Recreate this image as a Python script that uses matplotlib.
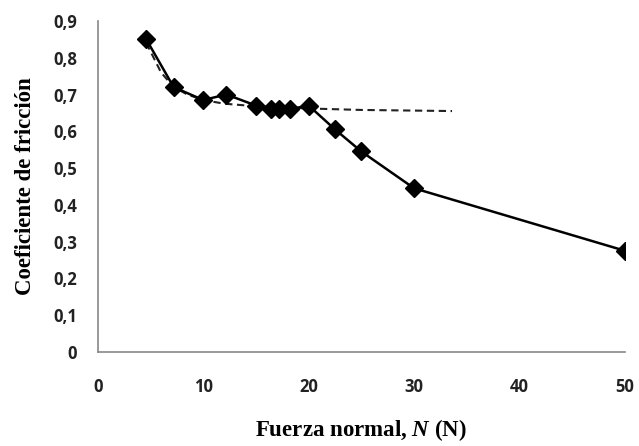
import matplotlib
matplotlib.use("Agg")
import matplotlib.pyplot as plt

# measured data
fuerza = [4.6, 7.2, 10, 12.2, 15, 16.4, 17.2, 18.2, 20, 22.5, 25, 30, 50]
coef = [0.85, 0.72, 0.685, 0.70, 0.67, 0.66, 0.66, 0.66, 0.67, 0.605, 0.545, 0.445, 0.275]

# dashed trend line
trend_x = [4.6, 6.0, 7.2, 8.5, 10, 12, 15, 20, 25, 33.6]
trend_y = [0.84, 0.76, 0.72, 0.70, 0.685, 0.675, 0.668, 0.662, 0.658, 0.655]

xticks = [0, 10, 20, 30, 40, 50]
yticks = [0, 0.1, 0.2, 0.3, 0.4, 0.5, 0.6, 0.7, 0.8, 0.9]

plt.rcParams['mathtext.fontset'] = 'custom'
plt.rcParams['mathtext.it'] = 'Liberation Serif:italic:bold'
plt.rcParams['mathtext.rm'] = 'Liberation Serif:bold'

fig = plt.figure(figsize=(6.39, 4.46), dpi=100)
ax = fig.add_axes([0.153, 0.211, 0.825, 0.742])

ax.plot(trend_x, trend_y, color='#222222', linestyle=(0, (3.5, 2.2)), linewidth=1.5)
ax.plot(fuerza, coef, color='black', linewidth=1.8, marker='D', markersize=9)

ax.set_xlim(0, 50)
ax.set_ylim(0, 0.9)
ax.set_xticks(xticks)
ax.set_yticks(yticks)
ax.set_xticklabels([str(t) for t in xticks])
ax.set_yticklabels(['0'] + [f"{t:.1f}".replace('.', ',') for t in yticks[1:]])

for side in ['top', 'right']:
    ax.spines[side].set_visible(False)
for side in ['left', 'bottom']:
    ax.spines[side].set_color('#888888')
    ax.spines[side].set_linewidth(1.2)

ax.tick_params(length=0, labelsize=12, colors='#222222')
ax.tick_params(axis='x', pad=19)
ax.tick_params(axis='y', pad=15)
for lab in ax.get_xticklabels() + ax.get_yticklabels():
    lab.set_family('Open Sans')
    lab.set_fontweight('bold')

ax.set_xlabel('Fuerza normal, $N$ (N)', family='Liberation Serif',
              fontweight='bold', fontsize=16.5, labelpad=15)
ax.set_ylabel('Coeficiente de fricción', family='Liberation Serif',
              fontweight='bold', fontsize=16.5, labelpad=12)

fig.savefig('out.png', dpi=100)
